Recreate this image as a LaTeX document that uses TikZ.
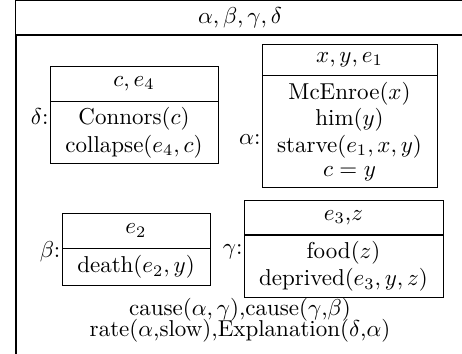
\documentclass[tikz,border=0pt]{standalone}
\usetikzlibrary{positioning}
\tikzset{
  drshead/.style={draw, line width=0.4pt, inner sep=0pt},
  drsbody/.style={draw, line width=0.4pt, inner sep=0pt, align=center},
  drslab/.style={anchor=east, inner sep=0.5pt},
}
\begin{document}
\begin{tikzpicture}[x=0.435pt,y=-0.435pt]
\useasboundingbox (0,0) rectangle (462,354);
\clip (0,0) rectangle (462,354);
% outer box
\node[drshead, minimum width=195pt, minimum height=14.4pt] (top) at (240,17.5) {$\alpha,\beta,\gamma,\delta$};
\node[drsbody, line width=0.6pt, minimum width=195pt, minimum height=150pt, below=0pt of top] (all) {};

% delta
\node[drshead, minimum width=73.1pt, minimum height=15.2pt] (dh) at (134,83.5) {$c,e_4$};
\node[drsbody, minimum width=73.1pt, minimum height=27pt, below=0pt of dh] (db) {Connors($c$)\\collapse($e_4,c$)};
\node[drslab] (dl) at (50,117) {$\delta$:};

% alpha
\node[drshead, minimum width=76.1pt, minimum height=13.5pt] (ah) at (349.5,59.5) {$x,y,e_1$};
\node[drsbody, minimum width=76.1pt, minimum height=48.3pt, below=0pt of ah] (ab) {McEnroe($x$)\\[-0.5pt]him($y$)\\[-0.5pt]starve($e_1,x,y$)\\[-1.5pt]$c=y$};
\node[drslab] (al) at (262,140) {$\alpha$:};

% beta
\node[drshead, minimum width=64.4pt, minimum height=15.2pt] (bh) at (136,230.5) {$e_2$};
\node[drsbody, minimum width=64.4pt, minimum height=15.7pt, below=0pt of bh] (bb) {death($e_2,y$)};
\node[drslab] (bl) at (62,252) {$\beta$:};

% gamma
\node[drshead, minimum width=86.6pt, minimum height=14.4pt] (gh) at (343.5,217.5) {$e_3$,$z$};
\node[drsbody, minimum width=86.6pt, minimum height=27.4pt, below=0pt of gh] (gb) {food($z$)\\deprived($e_3,y,z$)};
\node[drslab] (gl) at (244,252) {$\gamma$:};

% conditions
\node[align=center, inner sep=0pt] (rel) at (240,320) {cause($\alpha,\gamma$),cause($\gamma$,$\beta$)\\[-3pt]rate($\alpha$,slow),Explanation($\delta$,$\alpha$)};
\end{tikzpicture}
\end{document}
